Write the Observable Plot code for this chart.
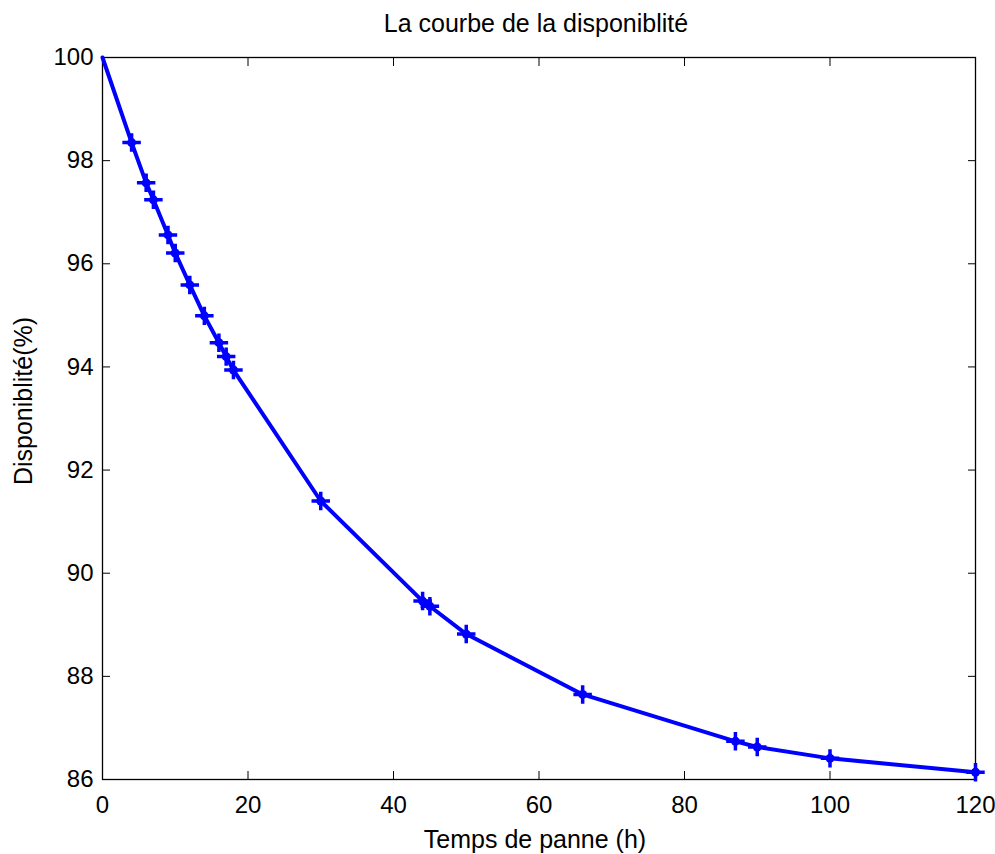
<!DOCTYPE html>
<html><head><meta charset="utf-8">
<script src="https://cdn.jsdelivr.net/npm/d3@7"></script>
<script src="https://cdn.jsdelivr.net/npm/@observablehq/plot@0.6"></script>
<style>
body{margin:0;background:#fff;font-family:"Liberation Sans",Arial,sans-serif;}
#chart{position:relative;width:995px;height:854px;overflow:hidden;}
</style></head>
<body><div id="chart"></div>
<script>
const temps = [0, 4, 6, 7, 9, 10, 12, 14, 16, 17, 18, 30, 44, 45, 50, 66, 87, 90, 100, 120];
const dispo = [100, 98.35, 97.57, 97.24, 96.56, 96.21, 95.59, 94.99, 94.47, 94.2, 93.94, 91.40, 89.46, 89.36, 88.82, 87.65, 86.74, 86.63, 86.41, 86.14];
const xTicks = [0, 20, 40, 60, 80, 100, 120];
const yTicks = [86, 88, 90, 92, 94, 96, 98, 100];
const title = "La courbe de la disponiblité";
const xLabel = "Temps de panne (h)";
const yLabel = "Disponiblité(%)";

const data = temps.map((t, i) => ({t, d: dispo[i]}));
const points = data.slice(1);

const chart = Plot.plot({
  width: 995,
  height: 854,
  marginLeft: 102,
  marginRight: 20,
  marginTop: 57,
  marginBottom: 75,
  style: {fontFamily: "'Liberation Sans', Arial, sans-serif", fontSize: "24px", background: "#fff", color: "#000", overflow: "visible"},
  x: {domain: [0, 120]},
  y: {domain: [86, 100]},
  marks: [
    Plot.axisX({anchor: "bottom", ticks: xTicks, tickSize: -8, tickPadding: 24, label: null, fontSize: 24}),
    Plot.axisX({anchor: "top", ticks: xTicks, tickSize: -8, tickFormat: () => "", label: null}),
    Plot.axisY({anchor: "left", ticks: yTicks, tickSize: -8, tickPadding: 17, label: null, fontSize: 24}),
    Plot.axisY({anchor: "right", ticks: yTicks, tickSize: -8, tickFormat: () => "", label: null}),
    Plot.frame({stroke: "#000", strokeWidth: 1.3}),
    Plot.line(data, {x: "t", y: "d", stroke: "#0000ff", strokeWidth: 4}),
    Plot.dot(points, {x: "t", y: "d", r: 4.5, fill: "#0000ff", stroke: "none"}),
    Plot.dot(points, {x: "t", y: "d", symbol: "plus", r: 6, stroke: "#0000ff", strokeWidth: 3.5})
  ]
});

const root = document.getElementById("chart");
root.appendChild(chart);
chart.style.position = "absolute";
chart.style.left = "0";
chart.style.top = "0";

function addText(txt, css) {
  const el = document.createElement("div");
  el.textContent = txt;
  el.style.position = "absolute";
  el.style.fontSize = "25px";
  el.style.lineHeight = "1";
  el.style.whiteSpace = "nowrap";
  el.style.color = "#000";
  Object.assign(el.style, css);
  root.appendChild(el);
  return el;
}
addText(title, {left: "536px", top: "23px", transform: "translate(-50%,-50%)"});
addText(xLabel, {left: "535px", top: "839px", transform: "translate(-50%,-50%)"});
addText(yLabel, {left: "23px", top: "401px", transform: "translate(-50%,-50%) rotate(-90deg)"});
</script>
</body></html>
